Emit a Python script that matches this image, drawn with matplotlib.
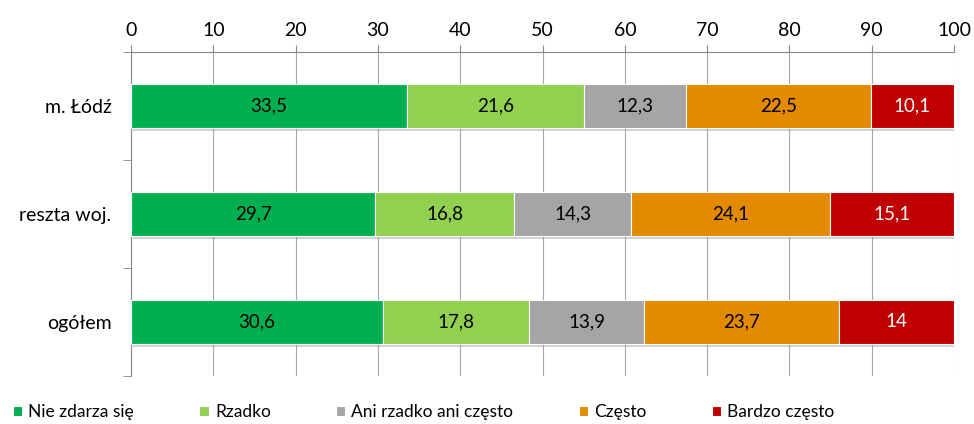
import matplotlib
matplotlib.use('Agg')
import numpy as np
from matplotlib import pyplot as plt
import matplotlib.patheffects as pe

plt.rcParams['font.family'] = ['Lato', 'DejaVu Sans']

# Survey answers per area (percent)
areas = ['m. Łódź', 'reszta woj.', 'ogółem']
answers = ['Nie zdarza się', 'Rzadko', 'Ani rzadko ani często', 'Często', 'Bardzo często']
nie_zdarza = [33.5, 29.7, 30.6]
rzadko = [21.6, 16.8, 17.8]
ani = [12.3, 14.3, 13.9]
czesto = [22.5, 24.1, 23.7]
bardzo = [10.1, 15.1, 14.0]
value_labels = [['33,5', '29,7', '30,6'],
                ['21,6', '16,8', '17,8'],
                ['12,3', '14,3', '13,9'],
                ['22,5', '24,1', '23,7'],
                ['10,1', '15,1', '14']]

colors = ['#00B050', '#92D050', '#A5A5A5', '#E48A00', '#C00000']
text_colors = ['black', 'black', 'black', 'black', 'white']

fig = plt.figure(figsize=(9.74, 4.24), dpi=100)
ax = fig.add_axes([0.1345, 0.1132, 0.8450, 0.7642])

y = np.arange(len(areas))
left = np.zeros(len(areas))
all_bars = []
for series, color, tcol, labels, name in zip([nie_zdarza, rzadko, ani, czesto, bardzo],
                                            colors, text_colors, value_labels, answers):
    bars = ax.barh(y, series, left=left, height=0.4, color=color, edgecolor='white',
                   linewidth=0.8, label=name, zorder=3)
    all_bars.append(bars)
    ax.bar_label(bars, labels=labels, label_type='center', color=tcol, fontsize=13.5, zorder=4)
    left += np.array(series)

ax.set_xlim(0, 100)
ax.set_ylim(2.5, -0.5)
ax.set_xticks(np.arange(0, 101, 10))
ax.xaxis.tick_top()
ax.tick_params(axis='x', which='major', direction='out', length=5, color='#888888',
               labelsize=14, pad=4)
ax.set_yticks(y)
ax.set_yticklabels(areas)
ax.tick_params(axis='y', which='major', length=0, labelsize=14, pad=14)
ax.set_yticks([-0.5, 0.5, 1.5, 2.5], minor=True)
ax.tick_params(axis='y', which='minor', direction='out', length=6, color='#888888')

ax.grid(axis='x', color='#A6A6A6', linewidth=0.8, zorder=0)
ax.set_axisbelow(True)
for side in ['right', 'bottom']:
    ax.spines[side].set_visible(False)
for side in ['top', 'left']:
    ax.spines[side].set_color('#888888')
    ax.spines[side].set_linewidth(0.8)

fig.legend(loc='center left', bbox_to_anchor=(0.006, 0.028), ncol=5, frameon=False,
           fontsize=12.5, handlelength=0.55, handleheight=0.55, handletextpad=0.35,
           columnspacing=3.75, borderaxespad=0)

# soft drop shadow under the bars (added after the legend so the keys stay flat)
shadow = [pe.SimplePatchShadow(offset=(1.5, -2.5), shadow_rgbFace='#808080', alpha=0.35), pe.Normal()]
for bars in all_bars:
    for b in bars:
        b.set_path_effects(shadow)

plt.savefig('out.png', dpi=100)
